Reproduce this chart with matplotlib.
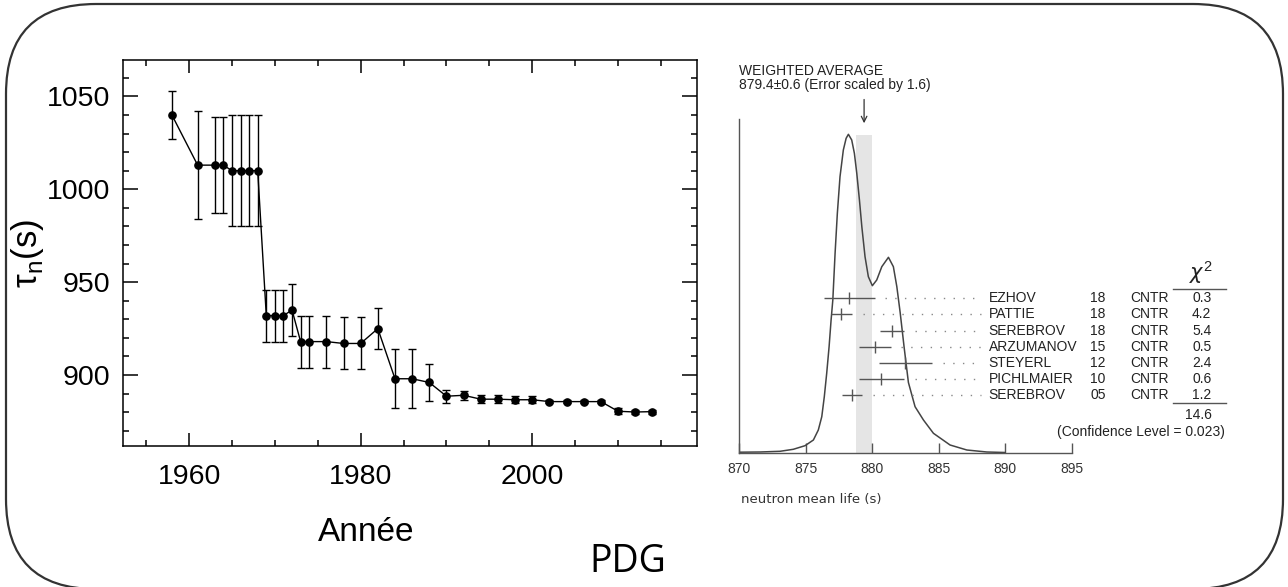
import matplotlib
matplotlib.use("Agg")
import matplotlib.pyplot as plt
from matplotlib.patches import FancyBboxPatch
from matplotlib.ticker import MultipleLocator

plt.rcParams["font.family"] = ["Liberation Sans", "DejaVu Sans"]
plt.rcParams["mathtext.fontset"] = "custom"
plt.rcParams["mathtext.rm"] = "Liberation Sans"

# Historique PDG de la durée de vie du neutron
years = [1958, 1961, 1963, 1964, 1965, 1966, 1967, 1968, 1969, 1970, 1971, 1972,
         1973, 1974, 1976, 1978, 1980, 1982, 1984, 1986, 1988, 1990, 1992, 1994,
         1996, 1998, 2000, 2002, 2004, 2006, 2008, 2010, 2012, 2014]
tau = [1040, 1013, 1013, 1013, 1010, 1010, 1010, 1010, 932, 932, 932, 935,
       918, 918, 918, 917, 917, 925, 898, 898, 896, 888.6, 889.1, 887.0,
       887.0, 886.7, 886.7, 885.7, 885.7, 885.7, 885.7, 880.5, 880.1, 880.3]
tau_err = [13, 29, 26, 26, 30, 30, 30, 30, 14, 14, 14, 14,
           14, 14, 14, 14, 14, 11, 16, 16, 10, 3.5, 2.5, 2.0,
           2.0, 1.9, 1.9, 0.8, 0.8, 0.8, 0.8, 1.5, 1.1, 1.1]

# Idéogramme PDG (mesures utilisées pour la moyenne)
names = ["EZHOV", "PATTIE", "SEREBROV", "ARZUMANOV", "STEYERL", "PICHLMAIER", "SEREBROV"]
pub_years = ["18", "18", "18", "15", "12", "10", "05"]
techniques = ["CNTR"] * 7
values = [878.3, 877.7, 881.5, 880.2, 882.5, 880.7, 878.5]
errors = [1.9, 0.8, 0.9, 1.2, 2.0, 1.7, 0.75]
chi2 = ["0.3", "4.2", "5.4", "0.5", "2.4", "0.6", "1.2"]
chi2_total = "14.6"
avg, avg_err = 879.4, 0.6

# courbe de l'idéogramme
curve_x = [870.0, 871.58, 873.08, 874.08, 874.96, 875.59, 875.96, 876.22, 876.41,
           876.59, 876.77, 876.92, 877.05, 877.22, 877.39, 877.59, 877.84, 878.05,
           878.22, 878.47, 878.67, 878.85, 879.05, 879.23, 879.47, 879.72, 880.02,
           880.35, 880.73, 881.23, 881.60, 881.86, 882.11, 882.41, 882.73, 883.23,
           883.86, 884.61, 885.86, 887.12, 888.62, 890.0]
curve_y = [0.3, 0.5, 1.2, 3.2, 6.8, 12.5, 22.5, 35.8, 55.8,
           79.2, 105.8, 132.5, 152.5, 199.2, 239.2, 275.8, 302.5, 314.2,
           318.2, 312.5, 299.2, 279.2, 252.5, 225.8, 195.8, 175.8, 166.8,
           172.5, 185.8, 195.2, 185.8, 165.8, 140.0, 105.0, 70.0, 45.8,
           32.5, 19.2, 7.5, 2.5, 0.5, 0.0]

fig = plt.figure(figsize=(12.88, 5.87), dpi=100)

# cadre arrondi
bg = fig.add_axes([0, 0, 1, 1], zorder=0)
bg.set_xlim(0, 1288)
bg.set_ylim(587, 0)
bg.axis("off")
bg.add_patch(FancyBboxPatch((6, 4), 1277, 585, boxstyle="round,pad=0,rounding_size=90",
                            fc="white", ec="#333333", lw=1.6, clip_on=False))
bg.text(628, 562, "PDG", fontsize=27, ha="center", va="center",
        family=["Open Sans", "DejaVu Sans"])

# --- panneau de gauche
ax = fig.add_axes([123 / 1288, 141 / 587, 574 / 1288, 386 / 587], zorder=1)
ax.errorbar(years, tau, yerr=tau_err, fmt="o-", color="black", ms=5.2, lw=1.0,
            elinewidth=1.0, capsize=3.2, capthick=1.0)
ax.set_xlim(1952.3, 2019.2)
ax.set_ylim(861.8, 1069.6)
ax.xaxis.set_major_locator(MultipleLocator(20))
ax.xaxis.set_minor_locator(MultipleLocator(5))
ax.yaxis.set_major_locator(MultipleLocator(50))
ax.yaxis.set_minor_locator(MultipleLocator(10))
ax.tick_params(which="both", direction="in", top=True, right=True, width=1.1)
ax.tick_params(axis="x", which="major", length=9.5, pad=13, labelsize=20.5)
ax.tick_params(axis="y", which="major", length=11, pad=9, labelsize=20.5)
ax.tick_params(which="minor", length=4.5)
for s in ax.spines.values():
    s.set_linewidth(1.1)
ax.set_xlabel("Année", fontsize=24)
ax.xaxis.set_label_coords(0.424, -0.184)
ax.set_ylabel(r"τ$_{\mathrm{n}}$(s)", fontsize=25)
ax.yaxis.set_label_coords(-0.135, 0.5)

# --- panneau de droite
ax2 = fig.add_axes([739 / 1288, 134.5 / 587, 332.7 / 1288, 333.5 / 587], zorder=1)
ax2.set_facecolor("none")
ax2.set_xlim(870, 895)
ax2.set_ylim(0, 333.5)
ax2.axvspan(avg - avg_err, avg + avg_err, ymax=317.5 / 333.5, color="#e5e5e5", lw=0)
ax2.plot(curve_x, curve_y, color="#444444", lw=1.1)
for sp in ["top", "right"]:
    ax2.spines[sp].set_visible(False)
for sp in ["left", "bottom"]:
    ax2.spines[sp].set_color("#555555")
    ax2.spines[sp].set_linewidth(1.0)
ax2.set_yticks([])
ax2.set_xticks([870, 875, 880, 885, 890, 895])
ax2.tick_params(axis="x", direction="in", length=7, width=1.0, color="#555555",
                labelsize=10, labelcolor="#333333", pad=7)
ax2.text(0.005, -0.14, "neutron mean life (s)", transform=ax2.transAxes, fontsize=9.5,
         color="#333333", ha="left", va="center", family="DejaVu Sans")

txt = dict(fontsize=10, color="#222222", va="center")
ax2.text(870, 381.5, "WEIGHTED AVERAGE", ha="left", **txt)
ax2.text(870, 367.5, f"{avg}±{avg_err} (Error scaled by 1.6)", ha="left", **txt)
ax2.annotate("", xy=(avg, 326.5), xytext=(avg, 355.8), annotation_clip=False,
             arrowprops=dict(arrowstyle="->", color="#333333", lw=0.9))

row_top, row_step = 154.2, 16.17
for i in range(len(names)):
    y = row_top - i * row_step
    ax2.errorbar(values[i], y, xerr=errors[i], fmt="|", color="#555555", ms=8.5,
                 mew=1.0, elinewidth=1.0, capsize=0)
    ax2.plot([values[i] + errors[i] + 0.8, 888.2], [y, y], color="#888888", lw=1.0,
             ls=(0, (1, 6)))
    ax2.text(888.75, y, names[i], ha="left", **txt)
    ax2.text(896.4, y, pub_years[i], ha="left", **txt)
    ax2.text(899.4, y, techniques[i], ha="left", **txt)
    ax2.text(905.5, y, chi2[i], ha="right", **txt)

ax2.text(904.7, 179.5, r"$\chi^2$", ha="center", va="center", fontsize=15, color="#222222")
ax2.plot([902.6, 906.6], [163.5, 163.5], color="#555555", lw=1.0, clip_on=False)
ax2.plot([902.6, 906.6], [49.2, 49.2], color="#555555", lw=1.0, clip_on=False)
ax2.text(905.5, 37.5, chi2_total, ha="right", **txt)
ax2.text(906.5, 20.8, "(Confidence Level = 0.023)", ha="right", **txt)

fig.savefig("out.png", dpi=100)
